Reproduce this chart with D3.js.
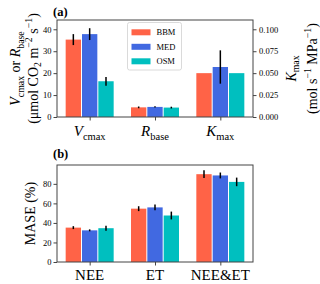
<!DOCTYPE html>
<html>
<head>
<meta charset="utf-8">
<script src="https://cdn.jsdelivr.net/npm/d3@7"></script>
<style>
  body { margin: 0; background: #fff; }
  text { font-family: "Liberation Serif", "Times New Roman", serif; fill: #000; }
</style>
</head>
<body>
<div id="chart"></div>
<script>
var models = ["BBM", "MED", "OSM"];
var colors = ["#ff6347", "#4169e1", "#00bfbf"];

// panel (a): Vcmax, Rbase on left axis, Kmax on right axis
var paramNames = ["Vcmax", "Rbase", "Kmax"];
var paramMean = [[35.3, 4.4, 0.050], [37.8, 4.6, 0.057], [16.3, 4.3, 0.050]];
var paramErr = [[2.5, 0.4, 0], [2.7, 0.3, 0.019], [2.0, 0.4, 0]];
var leftTicks = [0, 10, 20, 30, 40];
var rightTicks = [0, 0.025, 0.05, 0.075, 0.1];

// panel (b): MASE
var metricNames = ["NEE", "ET", "NEE&ET"];
var maseMean = [[35.2, 54.6, 89.9], [32.4, 55.9, 88.6], [34.6, 47.6, 82.0]];
var maseErr = [[1.5, 2.5, 4.0], [1.0, 3.0, 3.0], [2.5, 4.0, 4.4]];
var maseTicks = [0, 20, 40, 60, 80];

var W = 320, H = 284;
var svg = d3.select("#chart").append("svg")
  .attr("width", W).attr("height", H);

var left = 57, right = 253;
var A = {top: 20, bottom: 117}, B = {top: 165, bottom: 262};

var x = d3.scaleLinear().domain([-0.5, 2.5]).range([left, right]);
var barW = 0.25;

function rich(sel, parts, size) {
  var shift = 0;
  parts.forEach(function (p) {
    var target = p.s === "sub" ? size * 0.28 : p.s === "sup" ? -size * 0.4 : 0;
    sel.append("tspan")
      .attr("dy", target - shift)
      .attr("font-size", p.s ? size * 0.7 : size)
      .attr("font-style", p.i ? "italic" : null)
      .text(p.t);
    shift = target;
  });
}

function bars(g, means, errs, yFor) {
  models.forEach(function (m, k) {
    means[k].forEach(function (v, j) {
      var y = yFor(j);
      var cx = x(j + (k - 1) * barW);
      g.append("rect")
        .attr("x", x(j + (k - 1) * barW - barW / 2) + 0.5)
        .attr("width", x(barW) - x(0) - 1)
        .attr("y", y(v))
        .attr("height", y(0) - y(v))
        .attr("fill", colors[k]);
      var e = errs[k][j];
      if (e > 0) {
        g.append("line")
          .attr("x1", cx).attr("x2", cx)
          .attr("y1", y(v - e)).attr("y2", y(v + e))
          .attr("stroke", "#000").attr("stroke-width", 1.5);
      }
    });
  });
}

function frame(g, top, bottom, yL, ticks, fmt) {
  g.append("rect")
    .attr("x", left).attr("y", top)
    .attr("width", right - left).attr("height", bottom - top)
    .attr("fill", "none").attr("stroke", "#444").attr("stroke-width", 1);
  var ax = g.append("g").attr("transform", "translate(" + left + ",0)")
    .call(d3.axisLeft(yL).tickValues(ticks).tickFormat(fmt).tickSize(3.5).tickPadding(2));
  ax.select(".domain").remove();
  ax.selectAll("line").attr("stroke", "#444");
  ax.selectAll("text").attr("font-size", 8.5).attr("font-family", "Liberation Serif");
  var xa = g.append("g").attr("transform", "translate(0," + bottom + ")")
    .call(d3.axisBottom(x).tickValues([0, 1, 2]).tickFormat("").tickSize(3.5));
  xa.select(".domain").remove();
  xa.selectAll("line").attr("stroke", "#444");
}

// ---- panel (a)
var ga = svg.append("g");
var yA = d3.scaleLinear().domain([0, 44.24]).range([A.bottom, A.top]);
var yK = d3.scaleLinear().domain([0, 0.1106]).range([A.bottom, A.top]);
bars(ga, paramMean, paramErr, function (j) { return j === 2 ? yK : yA; });
frame(ga, A.top, A.bottom, yA, leftTicks, d3.format("d"));

var ra = ga.append("g").attr("transform", "translate(" + right + ",0)")
  .call(d3.axisRight(yK).tickValues(rightTicks).tickFormat(d3.format(".3f")).tickSize(3.5).tickPadding(2.5));
ra.select(".domain").remove();
ra.selectAll("line").attr("stroke", "#444");
ra.selectAll("text").attr("font-size", 8.5).attr("font-family", "Liberation Serif");

var paramLabels = [
  [{t: "V", i: 1}, {t: "cmax", s: "sub"}],
  [{t: "R", i: 1}, {t: "base", s: "sub"}],
  [{t: "K", i: 1}, {t: "max", s: "sub"}]
];
paramLabels.forEach(function (p, j) {
  rich(ga.append("text").attr("x", x(j)).attr("y", 136).attr("text-anchor", "middle"), p, 15);
});

var midA = (A.top + A.bottom) / 2;
rich(ga.append("text").attr("text-anchor", "middle")
  .attr("transform", "translate(20," + midA + ") rotate(-90)"),
  [{t: "V", i: 1}, {t: "cmax", s: "sub"}, {t: " or "}, {t: "R", i: 1}, {t: "base", s: "sub"}], 14);
rich(ga.append("text").attr("text-anchor", "middle")
  .attr("transform", "translate(37.5," + midA + ") rotate(-90)"),
  [{t: "(μmol CO"}, {t: "2", s: "sub"}, {t: " m"}, {t: "−2", s: "sup"}, {t: " s"}, {t: "−1", s: "sup"}, {t: ")"}], 14);
rich(ga.append("text").attr("text-anchor", "middle")
  .attr("transform", "translate(295.5," + midA + ") rotate(-90)"),
  [{t: "K", i: 1}, {t: "max", s: "sub"}], 14);
rich(ga.append("text").attr("text-anchor", "middle")
  .attr("transform", "translate(316.5," + midA + ") rotate(-90)"),
  [{t: "(mol s"}, {t: "−1", s: "sup"}, {t: " MPa"}, {t: "−1", s: "sup"}, {t: ")"}], 14);

ga.append("text").attr("x", 53).attr("y", 15.5)
  .attr("font-size", 12.5).attr("font-weight", "bold").text("(a)");

// legend
var lg = ga.append("g");
lg.append("rect").attr("x", 127.5).attr("y", 22.5).attr("width", 54).attr("height", 47.5)
  .attr("rx", 2).attr("fill", "#fff").attr("fill-opacity", 0.8)
  .attr("stroke", "#d0d0d0").attr("stroke-width", 0.8);
models.forEach(function (m, k) {
  var cy = 32.3 + k * 14.5;
  lg.append("rect").attr("x", 131.5).attr("y", cy - 3).attr("width", 19).attr("height", 6)
    .attr("fill", colors[k]);
  lg.append("text").attr("x", 156.5).attr("y", cy + 3).attr("font-size", 8.5).text(m);
});

// ---- panel (b)
var gb = svg.append("g");
var yB = d3.scaleLinear().domain([0, 99.3]).range([B.bottom, B.top]);
bars(gb, maseMean, maseErr, function () { return yB; });
frame(gb, B.top, B.bottom, yB, maseTicks, d3.format("d"));

metricNames.forEach(function (n, j) {
  gb.append("text").attr("x", x(j)).attr("y", 280).attr("text-anchor", "middle")
    .attr("font-size", 15).text(n);
});
gb.append("text").attr("text-anchor", "middle")
  .attr("transform", "translate(35," + (B.top + B.bottom) / 2 + ") rotate(-90)")
  .attr("font-size", 14).text("MASE (%)");
gb.append("text").attr("x", 53).attr("y", 158)
  .attr("font-size", 12.5).attr("font-weight", "bold").text("(b)");
</script>
</body>
</html>
